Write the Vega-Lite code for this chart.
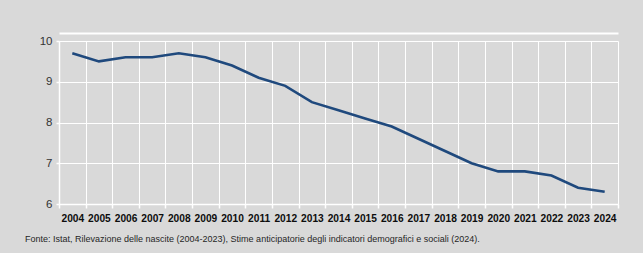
{
  "$schema": "https://vega.github.io/schema/vega-lite/v6.json",
  "autosize": {"type": "none"},
  "padding": {"left": 59, "top": 41, "right": 25, "bottom": 49},
  "width": 559,
  "height": 163,
  "background": "#d9d9d9",
  "config": {
    "view": {"stroke": null},
    "font": "Liberation Sans",
    "axisY": {
      "title": null, "values": [6, 7, 8, 9, 10],
      "domainColor": "#ffffff", "domainWidth": 1.5,
      "tickColor": "#ffffff", "tickSize": 3, "tickWidth": 1.5,
      "grid": true, "gridColor": "#ffffff", "gridWidth": 1,
      "labelFont": "Liberation Sans", "labelFontSize": 11.5,
      "labelColor": "#333333", "labelPadding": 4
    }
  },
  "title": {
    "text": "Fonte: Istat, Rilevazione delle nascite (2004-2023),  Stime anticipatorie degli indicatori demografici e sociali (2024).",
    "orient": "bottom",
    "anchor": "start",
    "frame": "group",
    "dx": -34,
    "offset": 12,
    "font": "Liberation Sans",
    "fontSize": 9,
    "fontWeight": "normal",
    "color": "#262626"
  },
  "data": {
    "values": [
      {"year": "2004", "value": 9.7},
      {"year": "2005", "value": 9.5},
      {"year": "2006", "value": 9.6},
      {"year": "2007", "value": 9.6},
      {"year": "2008", "value": 9.7},
      {"year": "2009", "value": 9.6},
      {"year": "2010", "value": 9.4},
      {"year": "2011", "value": 9.1},
      {"year": "2012", "value": 8.9},
      {"year": "2013", "value": 8.5},
      {"year": "2014", "value": 8.3},
      {"year": "2015", "value": 8.1},
      {"year": "2016", "value": 7.9},
      {"year": "2017", "value": 7.6},
      {"year": "2018", "value": 7.3},
      {"year": "2019", "value": 7.0},
      {"year": "2020", "value": 6.8},
      {"year": "2021", "value": 6.8},
      {"year": "2022", "value": 6.7},
      {"year": "2023", "value": 6.4},
      {"year": "2024", "value": 6.3}
    ]
  },
  "layer": [
    {
      "mark": {"type": "line", "color": "#1f497d", "strokeWidth": 2.6},
      "encoding": {
        "x": {
          "field": "year", "type": "ordinal",
          "scale": {"type": "band", "paddingInner": 0, "paddingOuter": 0},
          "axis": {
            "orient": "bottom", "title": null, "labelAngle": 0,
            "tickBand": "extent",
            "domainColor": "#ffffff", "domainWidth": 1.5,
            "tickColor": "#ffffff", "tickSize": 4, "tickWidth": 1.5,
            "grid": true, "gridColor": "#ffffff", "gridWidth": 1,
            "labelFont": "Liberation Sans", "labelFontSize": 10.2, "labelFontWeight": "bold",
            "labelColor": "#0d0d0d", "labelPadding": 5
          }
        },
        "y": {
          "field": "value", "type": "quantitative",
          "scale": {"domain": [6, 10]}
        }
      }
    },
    {
      "mark": {"type": "line", "opacity": 0},
      "encoding": {
        "x": {
          "field": "year", "type": "ordinal",
          "scale": {"type": "band", "paddingInner": 0, "paddingOuter": 0},
          "axis": {
            "orient": "top", "title": null, "labels": false, "ticks": false, "grid": false,
            "domainColor": "#ffffff", "domainWidth": 2, "offset": 8
          }
        },
        "y": {
          "field": "value", "type": "quantitative",
          "scale": {"domain": [6, 10]}
        }
      }
    }
  ],
  "resolve": {"axis": {"x": "independent"}}
}
